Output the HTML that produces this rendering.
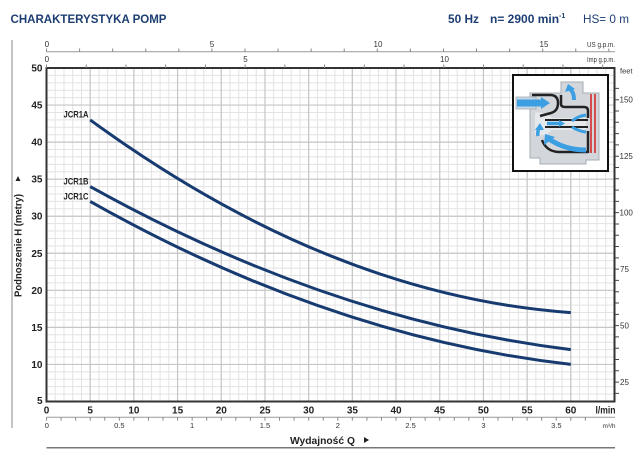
<!DOCTYPE html>
<html><head><meta charset="utf-8"><style>
html,body{margin:0;padding:0;background:#fff;}
svg{display:block;}
text{font-family:"Liberation Sans",Arial,sans-serif;}
</style></head><body>
<svg width="640" height="465" viewBox="0 0 640 465" xmlns="http://www.w3.org/2000/svg">
<rect width="640" height="465" fill="#fff"/>
<!-- header -->
<text x="10.5" y="23" font-size="12" font-weight="bold" fill="#1d3e72" textLength="156" lengthAdjust="spacingAndGlyphs">CHARAKTERYSTYKA POMP</text>
<text x="448" y="23" font-size="12" font-weight="bold" fill="#1d3e72" textLength="31" lengthAdjust="spacingAndGlyphs">50 Hz</text>
<text x="490" y="23" font-size="12" font-weight="bold" fill="#1d3e72">n= 2900 min<tspan font-size="7" dy="-5">-1</tspan></text>
<text x="583" y="23" font-size="12" fill="#1d3e72" textLength="46" lengthAdjust="spacingAndGlyphs">HS= 0 m</text>

<!-- left vertical line -->
<path d="M12,40V428" stroke="#888" stroke-width="1" fill="none"/>

<!-- grid minor -->
<path fill="none" stroke="#e3e3e3" stroke-width="1" d="M55.24,68v333.5
m8.7385-333.5v333.5m8.7385-333.5v333.5m8.7385-333.5v333.5m8.7385-333.5v333.5m8.7385-333.5v333.5m8.7385-333.5v333.5m8.7385-333.5v333.5m8.7385-333.5v333.5m8.7385-333.5v333.5
m8.7385-333.5v333.5m8.7385-333.5v333.5m8.7385-333.5v333.5m8.7385-333.5v333.5m8.7385-333.5v333.5m8.7385-333.5v333.5m8.7385-333.5v333.5m8.7385-333.5v333.5m8.7385-333.5v333.5
m8.7385-333.5v333.5m8.7385-333.5v333.5m8.7385-333.5v333.5m8.7385-333.5v333.5m8.7385-333.5v333.5m8.7385-333.5v333.5m8.7385-333.5v333.5m8.7385-333.5v333.5m8.7385-333.5v333.5
m8.7385-333.5v333.5m8.7385-333.5v333.5m8.7385-333.5v333.5m8.7385-333.5v333.5m8.7385-333.5v333.5m8.7385-333.5v333.5m8.7385-333.5v333.5m8.7385-333.5v333.5m8.7385-333.5v333.5
m8.7385-333.5v333.5m8.7385-333.5v333.5m8.7385-333.5v333.5m8.7385-333.5v333.5m8.7385-333.5v333.5m8.7385-333.5v333.5m8.7385-333.5v333.5m8.7385-333.5v333.5m8.7385-333.5v333.5
m8.7385-333.5v333.5m8.7385-333.5v333.5m8.7385-333.5v333.5m8.7385-333.5v333.5m8.7385-333.5v333.5m8.7385-333.5v333.5m8.7385-333.5v333.5m8.7385-333.5v333.5m8.7385-333.5v333.5
m8.7385-333.5v333.5m8.7385-333.5v333.5m8.7385-333.5v333.5m8.7385-333.5v333.5m8.7385-333.5v333.5m8.7385-333.5v333.5m8.7385-333.5v333.5m8.7385-333.5v333.5m8.7385-333.5v333.5
M46.5,75.41h568
m-568,7.411h568m-568,7.411h568m-568,7.411h568m-568,7.411h568m-568,7.411h568m-568,7.411h568m-568,7.411h568m-568,7.411h568m-568,7.411h568m-568,7.411h568
m-568,7.411h568m-568,7.411h568m-568,7.411h568m-568,7.411h568m-568,7.411h568m-568,7.411h568m-568,7.411h568m-568,7.411h568m-568,7.411h568m-568,7.411h568
m-568,7.411h568m-568,7.411h568m-568,7.411h568m-568,7.411h568m-568,7.411h568m-568,7.411h568m-568,7.411h568m-568,7.411h568m-568,7.411h568m-568,7.411h568
m-568,7.411h568m-568,7.411h568m-568,7.411h568m-568,7.411h568m-568,7.411h568m-568,7.411h568m-568,7.411h568m-568,7.411h568m-568,7.411h568m-568,7.411h568
m-568,7.411h568m-568,7.411h568m-568,7.411h568"/>
<!-- grid major -->
<path fill="none" stroke="#c6c6c6" stroke-width="1.2" d="M90.19,68v333.5m43.6925-333.5v333.5m43.6925-333.5v333.5m43.6925-333.5v333.5m43.6925-333.5v333.5m43.6925-333.5v333.5m43.6925-333.5v333.5m43.6925-333.5v333.5m43.6925-333.5v333.5m43.6925-333.5v333.5m43.6925-333.5v333.5m43.6925-333.5v333.5
M46.5,105.06h568m-568,37.055h568m-568,37.055h568m-568,37.055h568m-568,37.055h568m-568,37.055h568m-568,37.055h568m-568,37.055h568"/>

<!-- pump inset -->
<g>
<rect x="513" y="75" width="95" height="96" fill="#fff" stroke="#111" stroke-width="2"/>
<path d="M530,93 H561 V82 H583 V93 H599 V160 H586 V164 H540 V158 H530 Z" fill="#d3d7dc" stroke="#a6acb2" stroke-width="1"/>
<path d="M535,113 Q545,111 552,118 L586,118 L586,130 L552,130 Q545,137 535,135 Z" fill="#e6e9ec"/>
<rect x="516" y="97" width="20" height="12" fill="#c5d6e4" stroke="#a6acb2" stroke-width="0.8"/>
<path d="M517,103 H543" stroke="#3b9fe2" stroke-width="7" fill="none"/>
<path d="M541,97 L550,103 L541,109 Z" fill="#3b9fe2"/>
<path d="M532,95 H550 Q558,95 558,103 Q558,111 551,113 L540,116" stroke="#222" stroke-width="2.5" fill="none"/>
<path d="M561,95 V104 Q561,107 565,107 H584 Q588,107 588,111 V118" stroke="#222" stroke-width="2.5" fill="none"/>
<path d="M545,120 H588 M545,127 H588" stroke="#222" stroke-width="2" fill="none"/>
<path d="M588,131 V153 M542,140 Q546,151 558,152 H588" stroke="#222" stroke-width="2.5" fill="none"/>
<path d="M591,94 V153 M595,94 V153" stroke="#d42a2a" stroke-width="1.6" fill="none"/>
<path d="M574,100 Q574,92 570,89" stroke="#3b9fe2" stroke-width="4" fill="none"/>
<path d="M565,92 L568,84 L575,89 Z" fill="#3b9fe2"/>
<path d="M547,123.5 H560" stroke="#3b9fe2" stroke-width="3.5" fill="none"/>
<path d="M559,120 L565,123.5 L559,127 Z" fill="#3b9fe2"/>
<path d="M586,115 Q578,116 572,121" stroke="#3b9fe2" stroke-width="3" fill="none"/>
<path d="M586,132 Q578,131 572,127" stroke="#3b9fe2" stroke-width="3" fill="none"/>
<path d="M538,136 Q537,131 540,127" stroke="#3b9fe2" stroke-width="3.5" fill="none"/>
<path d="M535,130 L540,123 L544,130 Z" fill="#3b9fe2"/>
<path d="M586,150 Q565,150 549,139" stroke="#3b9fe2" stroke-width="5" fill="none"/>
<path d="M544,145 L545,134 L555,137 Z" fill="#3b9fe2"/>
</g>

<!-- plot border -->
<rect x="46.5" y="68" width="568" height="333.5" fill="none" stroke="#333" stroke-width="2"/>

<!-- curves -->
<g fill="none" stroke="#173b70" stroke-width="3" stroke-linecap="butt">
<path d="M90.19,119.9 Q330.5,295.4 570.81,312.6"/>
<path d="M90.19,186.6 Q330.5,320.2 570.81,349.6"/>
<path d="M90.19,201.4 Q330.5,337.1 570.81,364.4"/>
</g>
<g font-size="9" font-weight="bold" fill="#222" text-anchor="end">
<text x="88.5" y="117.5" textLength="25" lengthAdjust="spacingAndGlyphs">JCR1A</text>
<text x="88.5" y="184.5" textLength="25" lengthAdjust="spacingAndGlyphs">JCR1B</text>
<text x="88.5" y="199.5" textLength="25" lengthAdjust="spacingAndGlyphs">JCR1C</text>
</g>

<!-- y axis labels -->
<g font-size="10" font-weight="bold" fill="#222" text-anchor="end">
<text x="42.5" y="71.5">50</text>
<text x="42.5" y="108.6">45</text>
<text x="42.5" y="145.6">40</text>
<text x="42.5" y="182.7">35</text>
<text x="42.5" y="219.7">30</text>
<text x="42.5" y="256.8">25</text>
<text x="42.5" y="293.8">20</text>
<text x="42.5" y="330.9">15</text>
<text x="42.5" y="367.9">10</text>
<text x="42.5" y="404">5</text>
</g>
<text transform="translate(21.5,297) rotate(-90)" font-size="10" font-weight="bold" fill="#222" textLength="103" lengthAdjust="spacingAndGlyphs">Podnoszenie H  (metry)</text>
<polygon points="15.5,181 20.5,181 18,176" fill="#222"/>

<!-- right feet axis -->
<path fill="none" stroke="#444" stroke-width="1" d="M615,393.38h4m-4-11.2945h4m-4-11.2945h4m-4-11.2945h4m-4-11.2945h4m-4-11.2945h4m-4-11.2945h4m-4-11.2945h4m-4-11.2945h4m-4-11.2945h4m-4-11.2945h4m-4-11.2945h4m-4-11.2945h4m-4-11.2945h4m-4-11.2945h4m-4-11.2945h4m-4-11.2945h4m-4-11.2945h4m-4-11.2945h4m-4-11.2945h4m-4-11.2945h4m-4-11.2945h4m-4-11.2945h4m-4-11.2945h4m-4-11.2945h4m-4-11.2945h4m-4-11.2945h4m-4-11.2945h4"/>
<g font-size="8" fill="#333">
<text x="620" y="385">25</text>
<text x="620" y="328.5">50</text>
<text x="620" y="272">75</text>
<text x="619.5" y="215.5">100</text>
<text x="619.5" y="159">125</text>
<text x="619.5" y="102.5">150</text>
<text x="620" y="73.5" font-size="7.5">feet</text>
</g>

<!-- top US gpm axis -->
<path d="M46.5,51.7H615" stroke="#999" stroke-width="1" fill="none"/>
<path fill="none" stroke="#888" stroke-width="1" d="M46.5,48.5v3.2m33.079-3.2v3.2m33.079-3.2v3.2m33.079-3.2v3.2m33.079-3.2v3.2m33.079-3.2v3.2m33.079-3.2v3.2m33.079-3.2v3.2m33.079-3.2v3.2m33.079-3.2v3.2m33.079-3.2v3.2m33.079-3.2v3.2m33.079-3.2v3.2m33.079-3.2v3.2m33.079-3.2v3.2m33.079-3.2v3.2m33.079-3.2v3.2m33.079-3.2v3.2"/>
<g font-size="8" fill="#333" text-anchor="middle">
<text x="46.8" y="47">0</text>
<text x="212" y="47">5</text>
<text x="378" y="47">10</text>
<text x="544" y="47">15</text>
<text x="601" y="47" font-size="7" textLength="28" lengthAdjust="spacingAndGlyphs">US g.p.m.</text>
</g>
<!-- Imp gpm axis -->
<path fill="none" stroke="#888" stroke-width="1" d="M46.5,64.5v3.5m39.726-3.5v3.5m39.726-3.5v3.5m39.726-3.5v3.5m39.726-3.5v3.5m39.726-3.5v3.5m39.726-3.5v3.5m39.726-3.5v3.5m39.726-3.5v3.5m39.726-3.5v3.5m39.726-3.5v3.5m39.726-3.5v3.5m39.726-3.5v3.5m39.726-3.5v3.5m39.726-3.5v3.5"/>
<g font-size="8" fill="#333" text-anchor="middle">
<text x="46.8" y="62">0</text>
<text x="245.5" y="62">5</text>
<text x="444.5" y="62">10</text>
<text x="601" y="62" font-size="7" textLength="28" lengthAdjust="spacingAndGlyphs">Imp g.p.m.</text>
</g>

<!-- bottom l/min labels -->
<g font-size="10" font-weight="bold" fill="#222" text-anchor="middle">
<text x="46.5" y="413.5">0</text>
<text x="90.2" y="413.5">5</text>
<text x="133.9" y="413.5">10</text>
<text x="177.6" y="413.5">15</text>
<text x="221.3" y="413.5">20</text>
<text x="265" y="413.5">25</text>
<text x="308.7" y="413.5">30</text>
<text x="352.4" y="413.5">35</text>
<text x="396" y="413.5">40</text>
<text x="439.7" y="413.5">45</text>
<text x="483.4" y="413.5">50</text>
<text x="527.1" y="413.5">55</text>
<text x="570.8" y="413.5">60</text>
<text x="605.5" y="413.5" textLength="20" lengthAdjust="spacingAndGlyphs">l/min</text>
</g>

<!-- m3/h axis -->
<path d="M46.5,417.3H615" stroke="#999" stroke-width="1" fill="none"/>
<path fill="none" stroke="#888" stroke-width="1" d="M46.5,417.3v3.3m14.564-3.3v3.3m14.564-3.3v3.3m14.564-3.3v3.3m14.564-3.3v3.3m14.564-3.3v3.3m14.564-3.3v3.3m14.564-3.3v3.3m14.564-3.3v3.3m14.564-3.3v3.3m14.564-3.3v3.3m14.564-3.3v3.3m14.564-3.3v3.3m14.564-3.3v3.3m14.564-3.3v3.3m14.564-3.3v3.3m14.564-3.3v3.3m14.564-3.3v3.3m14.564-3.3v3.3m14.564-3.3v3.3m14.564-3.3v3.3m14.564-3.3v3.3m14.564-3.3v3.3m14.564-3.3v3.3m14.564-3.3v3.3m14.564-3.3v3.3m14.564-3.3v3.3m14.564-3.3v3.3m14.564-3.3v3.3m14.564-3.3v3.3m14.564-3.3v3.3m14.564-3.3v3.3m14.564-3.3v3.3m14.564-3.3v3.3m14.564-3.3v3.3m14.564-3.3v3.3m14.564-3.3v3.3m14.564-3.3v3.3"/>
<g font-size="7.5" fill="#333" text-anchor="middle">
<text x="46.8" y="428">0</text>
<text x="119.3" y="428">0.5</text>
<text x="192.1" y="428">1</text>
<text x="265" y="428">1.5</text>
<text x="337.8" y="428">2</text>
<text x="410.6" y="428">2.5</text>
<text x="483.4" y="428">3</text>
<text x="556.3" y="428">3.5</text>
<text x="609" y="428" font-size="6.5">m³/h</text>
</g>

<text x="290" y="444" font-size="10.5" font-weight="bold" fill="#222" textLength="65" lengthAdjust="spacingAndGlyphs">Wydajność Q</text>
<polygon points="364,437 364,443 369,440" fill="#222"/>
<path d="M46.5,447.7H615" stroke="#777" stroke-width="1.5" fill="none"/>
</svg>
</body></html>
